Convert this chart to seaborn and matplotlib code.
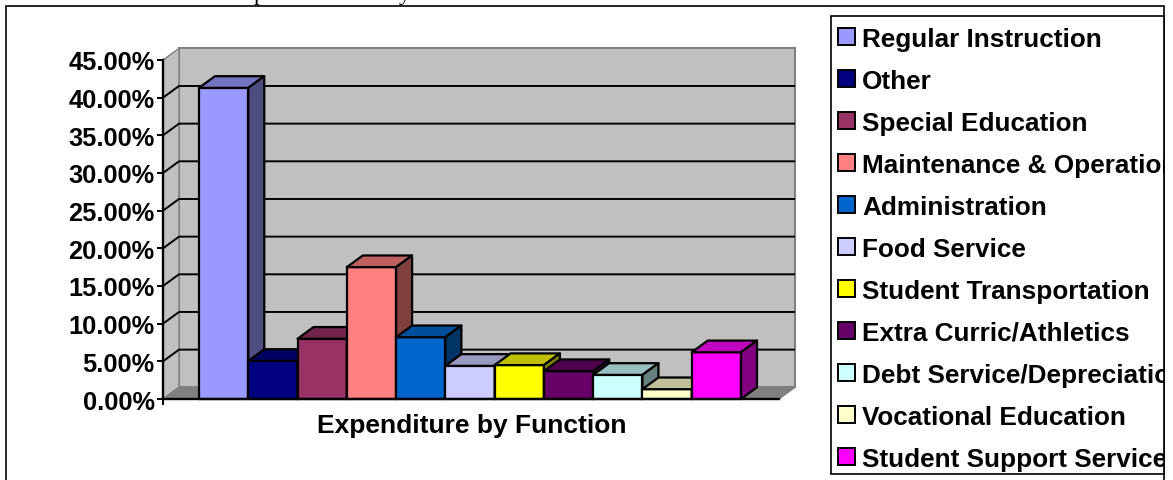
import matplotlib
matplotlib.use("Agg")
import matplotlib.pyplot as plt
import pandas as pd
import seaborn as sns
from matplotlib.colors import to_rgb
from matplotlib.patches import Polygon, Rectangle
from matplotlib.transforms import Bbox

funcoes = ["Regular Instruction", "Other", "Special Education", "Maintenance & Operations",
           "Administration", "Food Service", "Student Transportation", "Extra Curric/Athletics",
           "Debt Service/Depreciation", "Vocational Education", "Student Support Services"]
percentuais = [41.3, 5.05, 8.0, 17.5, 8.2, 4.4, 4.5, 3.7, 3.2, 1.3, 6.2]
cores = ["#9999FF", "#000080", "#993366", "#FF8080", "#0066CC", "#CCCCFF",
         "#FFFF00", "#660066", "#CCFFFF", "#FFFFCC", "#FF00FF"]
ticks_y = [0, 5, 10, 15, 20, 25, 30, 35, 40, 45]

W, H = 1173, 481
FONTE = "Liberation Sans"

sns.set_theme(style="white")
plt.rcParams["font.family"] = FONTE

fig = plt.figure(figsize=(W / 100, H / 100), dpi=100)
# axes position in pixels of the picture: x 163-779, y 400-61
ax = fig.add_axes([163 / W, 1 - 400 / H, 616 / W, 339 / H])

df = pd.DataFrame({"Funcao": funcoes, "Percentual": percentuais})
sns.barplot(data=df, x="Funcao", y="Percentual", hue="Funcao", order=funcoes, hue_order=funcoes,
            palette=cores, width=1, dodge=False, legend=False, edgecolor="black",
            linewidth=1.6, saturation=1, ax=ax)

px_x = 542 / 11
xmin, xmax = -0.5 - 36 / px_x, 10.5 + 38 / px_x
ax.set_xlim(xmin, xmax)
ax.set_ylim(0, 45)

# depth of the fake 3D, in data units
dx = 16 / px_x
dy = 11.7 / (339 / 45)


def tom(cor, f):
    return tuple(c * f for c in to_rgb(cor))


# walls and floor
parede = "#C0C0C0"
borda = "#808080"
ax.add_patch(Polygon([(xmin + dx, dy), (xmax + dx, dy), (xmax + dx, 45 + dy), (xmin + dx, 45 + dy)],
                     fc=parede, ec=borda, lw=1.5, clip_on=False, zorder=0.5))
ax.add_patch(Polygon([(xmin, 0), (xmin + dx, dy), (xmin + dx, 45 + dy), (xmin, 45)],
                     fc=parede, ec=borda, lw=1, clip_on=False, zorder=0.5))
ax.add_patch(Polygon([(xmin, 0), (xmax, 0), (xmax + dx, dy), (xmin + dx, dy)],
                     fc=borda, ec=borda, lw=1, clip_on=False, zorder=0.6))

# gridlines run over the side wall and the back wall
for t in ticks_y[1:-1]:
    ax.plot([xmin, xmin + dx, xmax + dx], [t, t + dy, t + dy], color="black", lw=1.4,
            clip_on=False, zorder=1, solid_capstyle="butt")

# top and side faces come from the bars seaborn drew, left bars first
for i, (barra, cor) in enumerate(zip(ax.patches[:len(funcoes)], cores)):
    x0, x1, h = barra.get_x(), barra.get_x() + barra.get_width(), barra.get_height()
    z = 2 + i * 0.1
    barra.set_zorder(z)
    barra.set_clip_on(False)
    ax.add_patch(Polygon([(x0, h), (x1, h), (x1 + dx, h + dy), (x0 + dx, h + dy)], fc=tom(cor, 0.75),
                         ec="black", lw=1.6, clip_on=False, zorder=z, joinstyle="round"))
    ax.add_patch(Polygon([(x1, 0), (x1 + dx, dy), (x1 + dx, h + dy), (x1, h)], fc=tom(cor, 0.5),
                         ec="black", lw=1.6, clip_on=False, zorder=z, joinstyle="round"))

for lado in ["top", "right"]:
    ax.spines[lado].set_visible(False)
for lado in ["left", "bottom"]:
    ax.spines[lado].set_linewidth(1.7)
    ax.spines[lado].set_color("black")
    ax.spines[lado].set_zorder(4)

ax.set_yticks(ticks_y)
ax.set_yticklabels([f"{t:.2f}%" for t in ticks_y], fontsize=18.3, fontweight="bold", color="black")
ax.set_xticks([xmin])
ax.set_xticklabels([""])
ax.tick_params(axis="both", length=4, width=1.4, color="black", left=True, bottom=True, pad=2)
ax.set_xlabel("")
ax.set_ylabel("")
ax.patch.set_visible(False)

fig.text(472 / W, 1 - 426.5 / H, "Expenditure by Function", fontsize=19, fontweight="bold",
         ha="center", va="center", color="black")

# descenders of the document line that sits just above the chart
fig.text(254 / W, 1.0, "p", family="Liberation Serif", fontsize=17, va="baseline", color="black")
fig.text(399 / W, 1.0, "y", family="Liberation Serif", fontsize=17, va="baseline", color="black")

# outer frame and legend box
fig.add_artist(Rectangle((6.2 / W, -0.1), 1157.8 / W, 0.1 + (1 - 6.5 / H), fill=False, ec="black", lw=1.2,
                         transform=fig.transFigure))
caixa = Rectangle((831 / W, 1 - 475 / H), 333 / W, 458 / H, fc="white", ec="black", lw=1.2,
                  transform=fig.transFigure, zorder=5)
fig.add_artist(caixa)

alcas = [Rectangle((0, 0), 1, 1, fc=c, ec="black", lw=1.4) for c in cores]
leg = fig.legend(alcas, funcoes, loc="upper left", bbox_to_anchor=(833 / W, 1 - 22.5 / H), frameon=False,
                 prop={"family": FONTE, "weight": "bold", "size": 18.8}, handlelength=0.64, handleheight=0.64,
                 handletextpad=0.27, labelspacing=0.69, borderpad=0.2, borderaxespad=0)
leg.set_zorder(6)
for txt in leg.get_texts():
    txt.set_color("black")
    # long names are cut by the box edge, as in the source picture
    txt.set_clip_box(Bbox([[831, 0], [1164, H]]))
    txt.set_clip_on(True)

fig.savefig("out.png", dpi=100)
plt.close(fig)
